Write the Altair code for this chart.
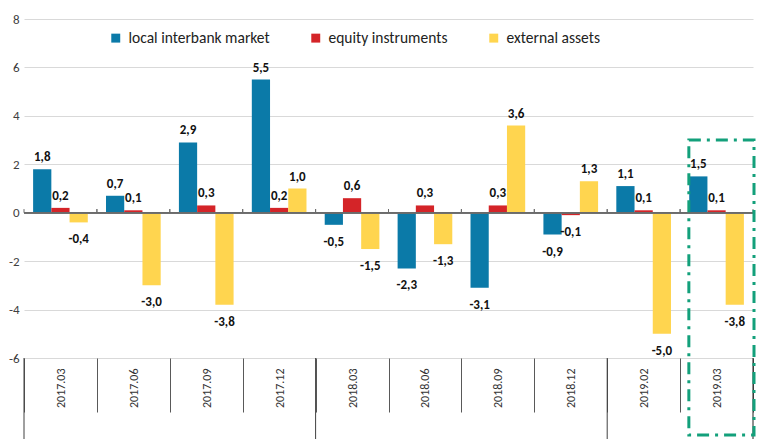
import altair as alt
import pandas as pd

periods = ["2017.03", "2017.06", "2017.09", "2017.12", "2018.03",
           "2018.06", "2018.09", "2018.12", "2019.02", "2019.03"]
local_interbank = [1.8, 0.7, 2.9, 5.5, -0.5, -2.3, -3.1, -0.9, 1.1, 1.5]
equity_instruments = [0.2, 0.1, 0.3, 0.2, 0.6, 0.3, 0.3, -0.1, 0.1, 0.1]
external_assets = [-0.4, -3.0, -3.8, 1.0, -1.5, -1.3, 3.6, 1.3, -5.0, -3.8]
series = ["local interbank market", "equity instruments", "external assets"]
colors = ["#0B7AA8", "#D42428", "#FFD54F"]
y_ticks = [-6, -4, -2, 0, 2, 4, 6, 8]
group_starts = ["2017.03", "2018.03", "2019.02"]
highlight = ["2019.03"]

rows = []
for name, vals in zip(series, [local_interbank, equity_instruments, external_assets]):
    for p, v in zip(periods, vals):
        rows.append({"period": p, "series": name, "value": v,
                     "label": f"{v:.1f}".replace(".", ",")})
df = pd.DataFrame(rows)
pdf = pd.DataFrame({"period": periods})

W, H = 729, 339
FONT = "Calibri, Carlito, Lato, sans-serif"

x_axis = alt.X(
    "period:N", sort=periods,
    scale=alt.Scale(domain=periods, paddingInner=0, paddingOuter=0),
    axis=alt.Axis(title=None, labelAngle=270, tickBand="extent", tickSize=54,
                  tickColor="#595959", domain=False, labelPadding=-44,
                  labelFontSize=12, labelColor="#333333", grid=False,
                  labelFont=FONT),
)
x_off = alt.XOffset("series:N", sort=series,
                    scale=alt.Scale(domain=series, paddingInner=0, paddingOuter=0.5))
y_axis = alt.Y(
    "value:Q",
    scale=alt.Scale(domain=[-6, 8], nice=False),
    axis=alt.Axis(title=None, values=y_ticks, labelExpr="'' + datum.value",
                  domain=False, ticks=False, gridColor="#D9D9D9",
                  labelFontSize=13, labelPadding=5, labelColor="#404040",
                  labelFont=FONT),
)

bars = alt.Chart(df).mark_bar().encode(
    x=x_axis,
    xOffset=x_off,
    y=y_axis,
    color=alt.Color(
        "series:N", sort=series,
        scale=alt.Scale(domain=series, range=colors),
        legend=alt.Legend(title=None, orient="none", legendX=84, legendY=11,
                          direction="horizontal", symbolType="square",
                          symbolSize=80, symbolStrokeWidth=0, labelFontSize=15.5,
                          labelFont=FONT, labelColor="#222222", columnPadding=38,
                          labelOffset=5),
    ),
)

x_plain = alt.X("period:N", sort=periods)

pos_labels = alt.Chart(df).transform_filter("datum.value >= 0").mark_text(
    baseline="bottom", dy=-5, fontWeight="bold", fontSize=13, font=FONT, color="#111111"
).encode(x=x_plain, xOffset=x_off, y="value:Q", text="label:N")

neg_labels = alt.Chart(df).transform_filter("datum.value < 0").mark_text(
    baseline="top", dy=11, fontWeight="bold", fontSize=13, font=FONT, color="#111111"
).encode(x=x_plain, xOffset=x_off, y="value:Q", text="label:N")

zero_line = alt.Chart(pdf).mark_rule(color="#6B6B6B", strokeWidth=1.2).encode(
    y=alt.datum(0)
)

zero_ticks_l = alt.Chart(pdf).mark_rule(color="#6B6B6B").encode(
    x=alt.X("period:N", sort=periods, bandPosition=0),
    y=alt.datum(0), y2=alt.datum(0.15),
)
zero_ticks_r = alt.Chart(pdf).mark_rule(color="#6B6B6B").encode(
    x=alt.X("period:N", sort=periods, bandPosition=1),
    y=alt.datum(0), y2=alt.datum(0.15),
)

group_lines = alt.Chart(pdf).transform_filter(
    alt.FieldOneOfPredicate(field="period", oneOf=group_starts)
).mark_rule(color="#404040").encode(
    x=alt.X("period:N", sort=periods, bandPosition=0),
    y=alt.value(H), y2=alt.value(H + 85),
)
end_line = alt.Chart(pd.DataFrame({"period": highlight})).mark_rule(color="#202020").encode(
    x=alt.X("period:N", sort=periods, bandPosition=1),
    y=alt.value(H), y2=alt.value(H + 85),
)

box = alt.Chart(pd.DataFrame({"period": highlight})).mark_rect(
    filled=False, color="#13A07B", strokeWidth=3, strokeDash=[12, 6, 3, 6]
).encode(
    x=alt.X("period:N", sort=periods, bandPosition=0.12),
    x2=alt.value(W + 1),
    y=alt.datum(3),
    y2=alt.value(H + 77),
)

chart = alt.layer(
    bars, zero_line, zero_ticks_l, zero_ticks_r, pos_labels, neg_labels,
    group_lines, end_line, box
).properties(
    width=W, height=H,
    padding={"left": 0, "top": 5, "right": 5, "bottom": 0},
).configure_view(stroke=None)

chart.save("out.html", embed_options={"renderer": "svg", "actions": False})
